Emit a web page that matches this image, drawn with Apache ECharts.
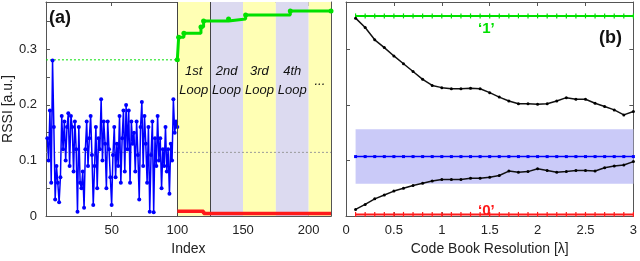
<!DOCTYPE html>
<html><head><meta charset="utf-8">
<script src="https://cdn.jsdelivr.net/npm/echarts@6/dist/echarts.min.js"></script>
<style>html,body{margin:0;padding:0;background:#fff}#c{width:640px;height:261px}</style>
</head><body><div id="c"></div><script>
// ---------- Panel (a) data ----------
const blueRSSI = [0.14,0.10,0.19,0.06,0.28,0.16,0.03,0.09,0.06,0.025,
  0.07,0.18,0.12,0.17,0.10,0.16,0.185,0.09,0.18,0.16,
  0.08,0.17,0.12,0.008,0.16,0.06,0.05,0.08,0.015,0.12,
  0.17,0.09,0.14,0.18,0.11,0.02,0.09,0.16,0.05,0.14,
  0.12,0.21,0.10,0.17,0.13,0.05,0.17,0.12,0.07,0.02,
  0.11,0.16,0.07,0.13,0.09,0.18,0.06,0.14,0.19,0.08,
  0.20,0.12,0.19,0.06,0.17,0.13,0.15,0.08,0.17,0.11,
  0.03,0.16,0.205,0.09,0.18,0.13,0.06,0.16,0.008,0.11,
  0.17,0.007,0.14,0.09,0.18,0.10,0.14,0.05,0.12,0.09,
  0.16,0.08,0.12,0.04,0.13,0.10,0.21,0.15,0.17,0.16];
const greenIdx = [100,101,105,118,120,139,152,186,217];
const greenVal = [0.281,0.3215,0.329,0.340,0.351,0.3545,0.3615,0.3686,0.3686];
const redIdx = [100,120,217];
const redVal = [0.0088,0.0048,0.0048];
const threshold1 = 0.281;      // green dashed reference
const midLevel = 0.1146;       // gray dotted level
const loopEdges = [100,125,150,175,200,217];
const loopLabels = ['1st\nLoop','2nd\nLoop','3rd\nLoop','4th\nLoop','...'];
const xTicksA = [50,100,150,200];
const yTicksLabels = [0,0.1,0.2,0.3];

// ---------- Panel (b) data ----------
const resolution = [0.1,0.2,0.3,0.4,0.5,0.6,0.7,0.8,0.9,1.0,1.1,1.2,1.3,1.4,1.5,
  1.6,1.7,1.8,1.9,2.0,2.1,2.2,2.3,2.4,2.5,2.6,2.7,2.8,2.9,3.0];
const upperCurve = [0.356,0.339,0.317,0.303,0.288,0.274,0.260,0.246,0.235,0.231,
  0.229,0.229,0.230,0.229,0.222,0.214,0.207,0.202,0.202,0.201,
  0.202,0.207,0.213,0.210,0.210,0.203,0.197,0.191,0.182,0.188];
const lowerCurve = [0.012,0.021,0.031,0.038,0.045,0.050,0.055,0.059,0.063,0.066,
  0.066,0.066,0.068,0.068,0.070,0.073,0.081,0.079,0.080,0.085,
  0.082,0.079,0.080,0.082,0.082,0.081,0.087,0.090,0.092,0.098];
const level1 = 0.360, level0 = 0.003, levelMid = 0.107;
const bandLow = 0.058, bandHigh = 0.156;

const FONT = 'Liberation Sans, Arial, sans-serif';
const YMAX = 0.385;
const frame = '#555';
const GREEN = '#00e000', RED = '#ff1a1a', BLUE = '#0000ff';

function xAx(grid, pos, min, max, interval, labels, name, fmt){
  return {type:'value', gridIndex:grid, position:pos, min, max, interval,
    name: name||'', nameLocation:'middle', nameGap:23,
    nameTextStyle:{fontFamily:FONT,fontSize:14,color:'#222'},
    axisLine:{show:true,onZero:false,lineStyle:{color:frame,width:1}},
    axisTick:{show:true,inside:true,length:4,lineStyle:{color:frame}},
    axisLabel:{show:labels,margin:8,fontFamily:FONT,fontSize:13,color:'#222',formatter:fmt},
    splitLine:{show:false}};
}
function yAx(grid, pos, interval, labels, name, fmt){
  return {type:'value', gridIndex:grid, position:pos, min:0, max:YMAX, interval,
    name: name||'', nameLocation:'middle', nameGap:27, nameRotate:90,
    nameTextStyle:{fontFamily:FONT,fontSize:14,color:'#222'},
    axisLine:{show:true,onZero:false,lineStyle:{color:frame,width:1}},
    axisTick:{show:true,inside:true,length:4,lineStyle:{color:frame}},
    axisLabel:{show:labels,margin:9,fontFamily:FONT,fontSize:13,color:'#222',formatter:fmt},
    splitLine:{show:false}};
}
const fmtXA = v => xTicksA.includes(v) ? String(v) : '';
const fmtYA = v => yTicksLabels.some(t => Math.abs(t-v)<1e-9) ? String(+v.toFixed(2)) : '';

const bandColors = ['#ffffb4','#dcdaf0','#ffffb4','#dcdaf0','#ffffb4'];
const markAreaData = loopLabels.map((lab,i)=>[
  {xAxis:loopEdges[i], itemStyle:{color:bandColors[i]},
   label:{show:true, formatter:lab, position:'insideTop', distance: lab==='...'?70:60,
          fontFamily:FONT, fontStyle:'italic', fontSize:13, lineHeight:19, color:'#111'}},
  {xAxis:loopEdges[i+1]}
]);

const chart = echarts.init(document.getElementById('c'), null, {renderer:'canvas'});
chart.setOption({
  animation:false,
  backgroundColor:'#fff',
  grid:[
    {left:42, right:309, top:2, bottom:41},
    {left:346, right:4, top:2, bottom:41}
  ],
  xAxis:[
    xAx(0,'bottom',0,217,50,true,'Index',fmtXA),
    xAx(0,'top',0,217,50,false),
    xAx(1,'bottom',0,3,0.5,true,'Code Book Resolution [\u03bb]'),
    xAx(1,'top',0,3,0.5,false)
  ],
  yAxis:[
    yAx(0,'left',0.05,true,'RSSI [a.u.]',fmtYA),
    yAx(0,'right',0.05,false),
    yAx(1,'left',0.1,false),
    yAx(1,'right',0.1,false)
  ],
  series:[
    {type:'line', xAxisIndex:0, yAxisIndex:0, data:[], silent:true,
     markArea:{silent:true, data:markAreaData},
     markLine:{silent:true, symbol:'none', label:{show:false},
       lineStyle:{color:'#444', width:1, type:'solid'},
       data:[{xAxis:loopEdges[0]},{xAxis:loopEdges[1]}]}},
    {type:'line', xAxisIndex:0, yAxisIndex:0, data:[[0,midLevel],[217,midLevel]],
     symbol:'none', lineStyle:{color:'#999', width:1, type:[2,2]}, z:3},
    {type:'line', xAxisIndex:0, yAxisIndex:0, data:[[0,threshold1],[100,threshold1]],
     symbol:'none', lineStyle:{color:GREEN, width:1, type:[2,2]}, z:3},
    {type:'line', xAxisIndex:0, yAxisIndex:0, data:blueRSSI.map((v,i)=>[i+1,v]),
     symbol:'circle', symbolSize:4, itemStyle:{color:BLUE},
     lineStyle:{color:BLUE, width:1.5}, z:4},
    {type:'line', xAxisIndex:0, yAxisIndex:0, step:'end',
     data:greenIdx.map((x,i)=>[x,greenVal[i]]),
     symbol:'circle', symbolSize:5, itemStyle:{color:GREEN},
     lineStyle:{color:GREEN, width:3}, z:5},
    {type:'line', xAxisIndex:0, yAxisIndex:0, step:'end',
     data:redIdx.map((x,i)=>[x,redVal[i]]),
     symbol:'none', lineStyle:{color:RED, width:3.5}, z:5},

    {type:'line', xAxisIndex:2, yAxisIndex:2, data:[], silent:true,
     markArea:{silent:true, itemStyle:{color:'#cacaf8'},
       data:[[{xAxis:resolution[0], yAxis:bandLow},{xAxis:resolution[resolution.length-1], yAxis:bandHigh}]]}},
    {type:'line', xAxisIndex:2, yAxisIndex:2, data:resolution.map(x=>[x,level1]),
     symbol:'rect', symbolSize:[1.2,5], itemStyle:{color:GREEN},
     lineStyle:{color:GREEN, width:2}, z:4},
    {type:'line', xAxisIndex:2, yAxisIndex:2, data:resolution.map(x=>[x,level0]),
     symbol:'rect', symbolSize:[1.2,5], itemStyle:{color:RED},
     lineStyle:{color:RED, width:2}, z:4},
    {type:'line', xAxisIndex:2, yAxisIndex:2, data:resolution.map(x=>[x,levelMid]),
     symbol:'rect', symbolSize:3, itemStyle:{color:BLUE},
     lineStyle:{color:BLUE, width:1.5}, z:4},
    {type:'line', xAxisIndex:2, yAxisIndex:2, data:resolution.map((x,i)=>[x,upperCurve[i]]),
     symbol:'circle', symbolSize:3, itemStyle:{color:'#000'},
     lineStyle:{color:'#111', width:1.5}, z:5},
    {type:'line', xAxisIndex:2, yAxisIndex:2, data:resolution.map((x,i)=>[x,lowerCurve[i]]),
     symbol:'circle', symbolSize:3, itemStyle:{color:'#000'},
     lineStyle:{color:'#111', width:1.5}, z:5}
  ],
  graphic:[
    {type:'text', left:49, top:9, style:{text:'(a)', font:'bold 18px '+FONT, fill:'#111'}},
    {type:'text', left:599, top:29, style:{text:'(b)', font:'bold 18px '+FONT, fill:'#111'}},
    {type:'text', left:311, top:16, style:{text:'\u20181\u2019', font:'bold 15px '+FONT, fill:GREEN}},
    {type:'text', left:311, top:198, style:{text:'\u20180\u2019', font:'bold 15px '+FONT, fill:RED}},
    {type:'text', left:478, top:21, style:{text:'\u20181\u2019', font:'bold 15px '+FONT, fill:GREEN}},
    {type:'text', left:478, top:203, style:{text:'\u20180\u2019', font:'bold 15px '+FONT, fill:RED}}
  ]
});
</script></body></html>
